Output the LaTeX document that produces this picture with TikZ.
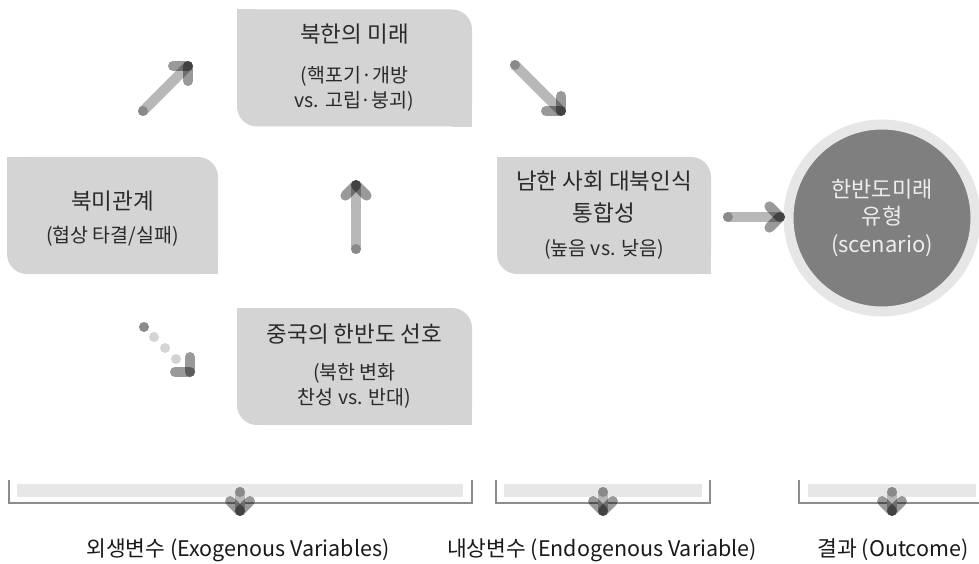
\documentclass[tikz,border=0pt]{standalone}
\usepackage{fontspec}
\setmainfont{Noto Sans CJK KR}
\usepackage{tikz}

\definecolor{boxgray}{HTML}{D4D4D4}
\definecolor{txtgray}{HTML}{2A2A2A}
\definecolor{shaftgray}{HTML}{B8B8B8}
\definecolor{dotgray}{HTML}{8A8A8A}
\definecolor{palegray}{HTML}{D4D4D4}
\definecolor{ringgray}{HTML}{E6E6E6}
\definecolor{ballgray}{HTML}{7F7F7F}
\definecolor{balltxt}{HTML}{EDEDED}
\definecolor{bargray}{HTML}{E7E7E7}
\definecolor{linegray}{HTML}{8C8C8C}

\newcommand{\boxtitle}{\fontsize{22.5}{25}\selectfont}
\newcommand{\boxsub}{\fontsize{19.5}{25}\selectfont}
\newcommand{\balltext}{\fontsize{22}{27.5}\selectfont}
\newcommand{\lbltext}{\fontsize{21.5}{24}\selectfont}

\begin{document}
\begin{tikzpicture}[x=1pt,y=-1pt]
\tikzset{box/.style = {fill=boxgray,rounded corners=20pt,text=txtgray,align=center,minimum height=117pt,font=\boxsub}}
\tikzset{shaft/.style = {draw=shaftgray,line width=10pt,line cap=round}}
\tikzset{arm/.style = {draw=black,opacity=0.4,line width=10pt,line cap=round}}
\tikzset{tail/.style = {fill=dotgray}}
\tikzset{bracket/.style = {draw=linegray,line width=2pt}}
\tikzset{lbl/.style = {text=black!90,font=\lbltext}}
\useasboundingbox (0,0) rectangle (979,564);

% vertices
\node[box,minimum width=211pt] (us) at (112.5,215.5) {\mbox{}\\[0pt]{\boxtitle 북미관계}\\[8pt](협상 타결/실패)};
\node[box,minimum width=235pt] (nk) at (354.5,68) {{\boxtitle 북한의 미래}\\[15pt](핵포기·개방\\vs. 고립·붕괴)};
\node[box,minimum width=235pt] (cn) at (354.5,366.5) {{\boxtitle 중국의 한반도 선호}\\[12pt](북한 변화\\찬성 vs. 반대)};
\node[box,minimum width=214pt] (sk) at (604,215.5) {{\boxtitle 남한 사회 대북인식}\\[7pt]{\boxtitle 통합성}\\[9pt](높음 vs. 낮음)};
\foreach \n in {us,nk,cn,sk} {
  \fill[boxgray] (\n.north west) rectangle ++(20,20);
  \fill[boxgray] (\n.south east) rectangle ++(-20,-20);
}
\node[circle,fill=ballgray,draw=ringgray,line width=10pt,minimum size=187pt,text=balltxt,font=\balltext,align=center] (out) at (882,218) {한반도미래\\유형\\(scenario)};

% edges
\coordinate (a1s) at (143,111);
\coordinate (a1t) at (188,66);
\coordinate (a2s) at (515,65);
\coordinate (a2t) at (561,111);
\coordinate (a3s) at (356,249);
\coordinate (a3t) at (356,185);
\coordinate (a4s) at (728,217);
\coordinate (a4t) at (780,217);
\foreach \s/\t/\a in {a1s/a1t/-45,a2s/a2t/45,a3s/a3t/-90,a4s/a4t/0} {
  \draw[shaft] (\s) -- (\t);
  \fill[tail] (\s) circle (5pt);
  \draw[arm] (\t) -- ++(\a+135:15);
  \draw[arm] (\t) -- ++(\a-135:15);
}
% dotted one
\coordinate (a5t) at (190,372);
\fill[tail] (144,327) circle (5pt);
\foreach \p in {(154,337),(165,348),(176,359)}
  \fill[palegray] \p circle (5pt);
\draw[arm] (a5t) -- ++(180:15);
\draw[arm] (a5t) -- ++(270:15);

% brackets
\draw[bracket] (9,480) |- (472,503) -- (472,480);
\fill[bargray] (17,484) rectangle (463,497);
\draw[bracket] (496,480) |- (710,503) -- (710,480);
\fill[bargray] (504,484) rectangle (702,497);
\draw[bracket] (799,480) |- (979,503);
\fill[bargray] (808,484) rectangle (976,497);

\node[lbl] (exo) at (238,550) {외생변수 (Exogenous Variables)};
\node[lbl] (endo) at (602,550) {내상변수 (Endogenous Variable)};
\node[lbl] (res) at (893,550) {결과 (Outcome)};

\foreach \x/\n in {240/b1,603/b2,892/b3} {
  \coordinate (\n s) at (\x,492);
  \coordinate (\n t) at (\x,511);
  \draw[shaft] (\n s) -- (\n t);
  \fill[tail] (\n s) circle (5pt);
  \draw[arm] (\n t) -- ++(225:14);
  \draw[arm] (\n t) -- ++(-45:14);
}
\end{tikzpicture}
\end{document}
